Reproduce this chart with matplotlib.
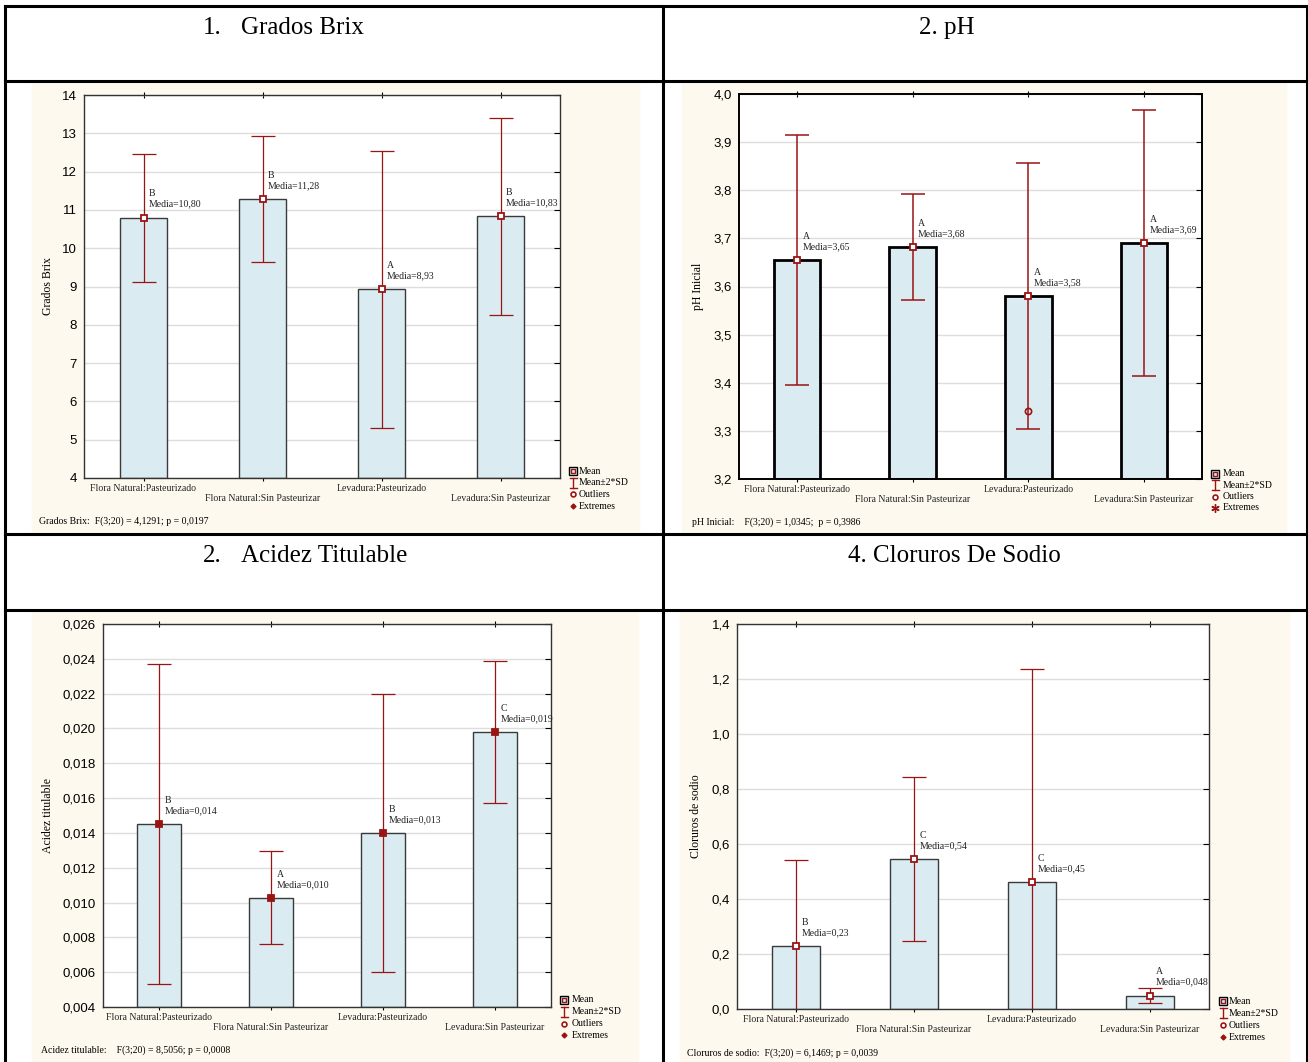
import matplotlib
matplotlib.use("Agg")
import matplotlib.pyplot as plt
from matplotlib.lines import Line2D
from matplotlib.patches import Rectangle
from matplotlib.ticker import FuncFormatter, MultipleLocator
import numpy as np

W, H = 1308, 1062
SERIF = "Liberation Serif"
plt.rcParams["font.family"] = ["Liberation Sans", "DejaVu Sans"]

groups = ["Flora Natural:Pasteurizado", "Flora Natural:Sin Pasteurizar",
          "Levadura:Pasteurizado", "Levadura:Sin Pasteurizar"]

# 1. Grados Brix
brix_mean = [10.80, 11.28, 8.93, 10.83]
brix_2sd = [1.67, 1.645, 3.62, 2.575]
brix_letters = ["B", "B", "A", "B"]
brix_media = ["10,80", "11,28", "8,93", "10,83"]
brix_stats = "Grados Brix:  F(3;20) = 4,1291; p = 0,0197"

# 2. pH
ph_mean = [3.655, 3.682, 3.580, 3.690]
ph_2sd = [0.26, 0.11, 0.277, 0.276]
ph_letters = ["A", "A", "A", "A"]
ph_media = ["3,65", "3,68", "3,58", "3,69"]
ph_outlier = (2, 3.341)
ph_stats = "pH Inicial:    F(3;20) = 1,0345;  p = 0,3986"

# 3. Acidez titulable
acid_mean = [0.0145, 0.01027, 0.01399, 0.0198]
acid_2sd = [0.0092, 0.00267, 0.0080, 0.0041]
acid_letters = ["B", "A", "B", "C"]
acid_media = ["0,014", "0,010", "0,013", "0,019"]
acid_stats = "Acidez titulable:    F(3;20) = 8,5056; p = 0,0008"

# 4. Cloruros de sodio
nacl_mean = [0.229, 0.546, 0.462, 0.049]
nacl_2sd = [0.313, 0.297, 0.775, 0.027]
nacl_letters = ["B", "C", "C", "A"]
nacl_media = ["0,23", "0,54", "0,45", "0,048"]
nacl_stats = "Cloruros de sodio:  F(3;20) = 6,1469; p = 0,0039"

legend_labels = ["Mean", "Mean\u00b12*SD", "Outliers", "Extremes"]

CREAM = "#fdf9ee"
BAR = "#daecf2"
RED = "#9a1414"


def fx(x):
    return x / W


def fy(y):
    return 1 - y / H


fig = plt.figure(figsize=(W / 100, H / 100), dpi=100)
fig.patch.set_facecolor("white")


def cream(l, t, r, b):
    fig.add_artist(Rectangle((fx(l), fy(b)), (r - l) / W, (b - t) / H,
                             transform=fig.transFigure, color=CREAM, zorder=0))


def line(x1, y1, x2, y2, **kw):
    fig.add_artist(Line2D([fx(x1), fx(x2)], [fy(y1), fy(y2)], transform=fig.transFigure, **kw))


def panel(box, mean, sd2, letters, media, ylo, yhi, step, dec, ylabel, ylabel_x,
          stats, stats_xy, leg, heavy=False, filled=False, outlier=None, asterisk=False):
    l, t, r, b = box
    ax = fig.add_axes([fx(l), fy(b), (r - l) / W, (b - t) / H])
    ax.set_facecolor("white")
    x = np.arange(len(mean))
    m = np.array(mean)
    ax.bar(x, m - ylo, bottom=ylo, width=0.4, color=BAR,
           edgecolor="black" if heavy else "#3a3a3a",
           linewidth=2.0 if heavy else 1.0, zorder=2)
    ax.errorbar(x, m, yerr=sd2, fmt="none", ecolor=RED, elinewidth=1.1 if heavy else 0.9,
                capsize=8.6, capthick=1.1 if heavy else 0.9, zorder=3)
    ax.plot(x, m, "s", ms=4.3, mfc=RED if filled else "white", mec=RED, mew=1.3, zorder=4)
    if outlier is not None:
        ax.plot([outlier[0]], [outlier[1]], "o", ms=4.5, mfc="none", mec=RED, mew=1.2, zorder=4)
    for i in range(len(m)):
        ax.annotate(f"{letters[i]}\nMedia={media[i]}", (x[i], m[i]), xytext=(4, 6.5),
                    textcoords="offset points", ha="left", va="bottom", fontsize=7,
                    family=SERIF, linespacing=1.15, color="#222222", zorder=5,
                    annotation_clip=False)
    ax.set_xlim(-0.5, 3.5)
    ax.set_ylim(ylo, yhi)
    ax.yaxis.set_major_locator(MultipleLocator(step))
    ax.yaxis.set_major_formatter(FuncFormatter(lambda v, p: f"{v:.{dec}f}".replace(".", ",")))
    ax.grid(axis="y", color="#dddddd", lw=1.0)
    ax.set_axisbelow(True)
    ax.set_xticks(x)
    ax.set_xticklabels([g if i % 2 == 0 else "\n" + g for i, g in enumerate(groups)],
                       fontsize=7, family=SERIF, color="#222222")
    ax.tick_params(axis="x", top=True, direction="inout", length=4, width=0.8, pad=2)
    ax.tick_params(axis="y", left=False, right=True, direction="in", length=4,
                   width=0.8, labelsize=9.5, pad=5)
    for s in ax.spines.values():
        s.set_color("black" if heavy else "#333333")
        s.set_linewidth(1.4 if heavy else 1.0)

    fig.text(fx(ylabel_x), fy((t + b) / 2), ylabel, rotation=90, ha="center", va="center",
             fontsize=8.5, family=SERIF)
    fig.text(fx(stats_xy[0]), fy(stats_xy[1]), stats, ha="left", va="center",
             fontsize=7, family=SERIF)

    # legend drawn by hand
    mx, tx, y0, dy = leg
    ys = [y0 + k * dy for k in range(4)]
    fig.add_artist(Line2D([fx(mx)], [fy(ys[0])], marker="s", ms=5.5, mfc=BAR, mec="black",
                          mew=1.0, transform=fig.transFigure))
    fig.add_artist(Line2D([fx(mx)], [fy(ys[0])], marker="s", ms=2.5, mfc="none", mec=RED,
                          mew=1.0, transform=fig.transFigure))
    line(mx, ys[1] - 5, mx, ys[1] + 5, color=RED, lw=1.0)
    line(mx - 3.5, ys[1] - 5, mx + 3.5, ys[1] - 5, color=RED, lw=1.0)
    line(mx - 3.5, ys[1] + 5, mx + 3.5, ys[1] + 5, color=RED, lw=1.0)
    fig.add_artist(Line2D([fx(mx)], [fy(ys[2])], marker="o", ms=3.5, mfc="white", mec=RED,
                          mew=1.2, transform=fig.transFigure))
    if asterisk:
        fig.add_artist(Line2D([fx(mx)], [fy(ys[3])], marker=(6, 2, 0), ms=6, mec=RED,
                              mew=1.0, transform=fig.transFigure))
    else:
        fig.add_artist(Line2D([fx(mx)], [fy(ys[3])], marker="D", ms=2.5, mfc=RED, mec=RED,
                              transform=fig.transFigure))
    for k, lab in enumerate(legend_labels):
        fig.text(fx(tx), fy(ys[k]), lab, ha="left", va="center", fontsize=7, family=SERIF)


# cream panels
cream(32, 82, 639, 532)
cream(682, 82, 1286, 532)
cream(32, 611, 638, 1062)
cream(680, 611, 1289, 1062)

panel((84, 95, 560, 478), brix_mean, brix_2sd, brix_letters, brix_media,
      4, 14, 1, 0, "Grados Brix", 48, brix_stats, (39, 521), (573, 579, 471, 11.7))
panel((739, 94, 1202, 479), ph_mean, ph_2sd, ph_letters, ph_media,
      3.2, 4.0, 0.1, 1, "pH Inicial", 698, ph_stats, (692, 522), (1215, 1223, 474, 11.3),
      heavy=True, outlier=ph_outlier, asterisk=True)
panel((103, 624, 551, 1007), acid_mean, acid_2sd, acid_letters, acid_media,
      0.004, 0.026, 0.002, 3, "Acidez titulable", 48, acid_stats, (41, 1050),
      (564, 572, 1000, 11.8), filled=True)
panel((737, 624, 1209, 1009), nacl_mean, nacl_2sd, nacl_letters, nacl_media,
      0.0, 1.4, 0.2, 1, "Cloruros de sodio", 696, nacl_stats, (687, 1053),
      (1223, 1229, 1001, 12.0))

# table grid
for yy in (6, 81, 534, 610):
    line(5, yy, 1307, yy, color="black", lw=2.2)
for xx in (5, 663, 1307):
    line(xx, 6, xx, 1062, color="black", lw=2.2)

# headers
fig.text(fx(203), fy(28), "1.", ha="left", va="center", fontsize=18, family=SERIF)
fig.text(fx(241), fy(28), "Grados Brix", ha="left", va="center", fontsize=18, family=SERIF)
fig.text(fx(919), fy(28), "2. pH", ha="left", va="center", fontsize=18, family=SERIF)
fig.text(fx(203), fy(556), "2.", ha="left", va="center", fontsize=18, family=SERIF)
fig.text(fx(241), fy(556), "Acidez Titulable", ha="left", va="center", fontsize=18, family=SERIF)
fig.text(fx(848), fy(556), "4. Cloruros De Sodio", ha="left", va="center", fontsize=18, family=SERIF)

fig.savefig("out.png", dpi=100, facecolor="white")
